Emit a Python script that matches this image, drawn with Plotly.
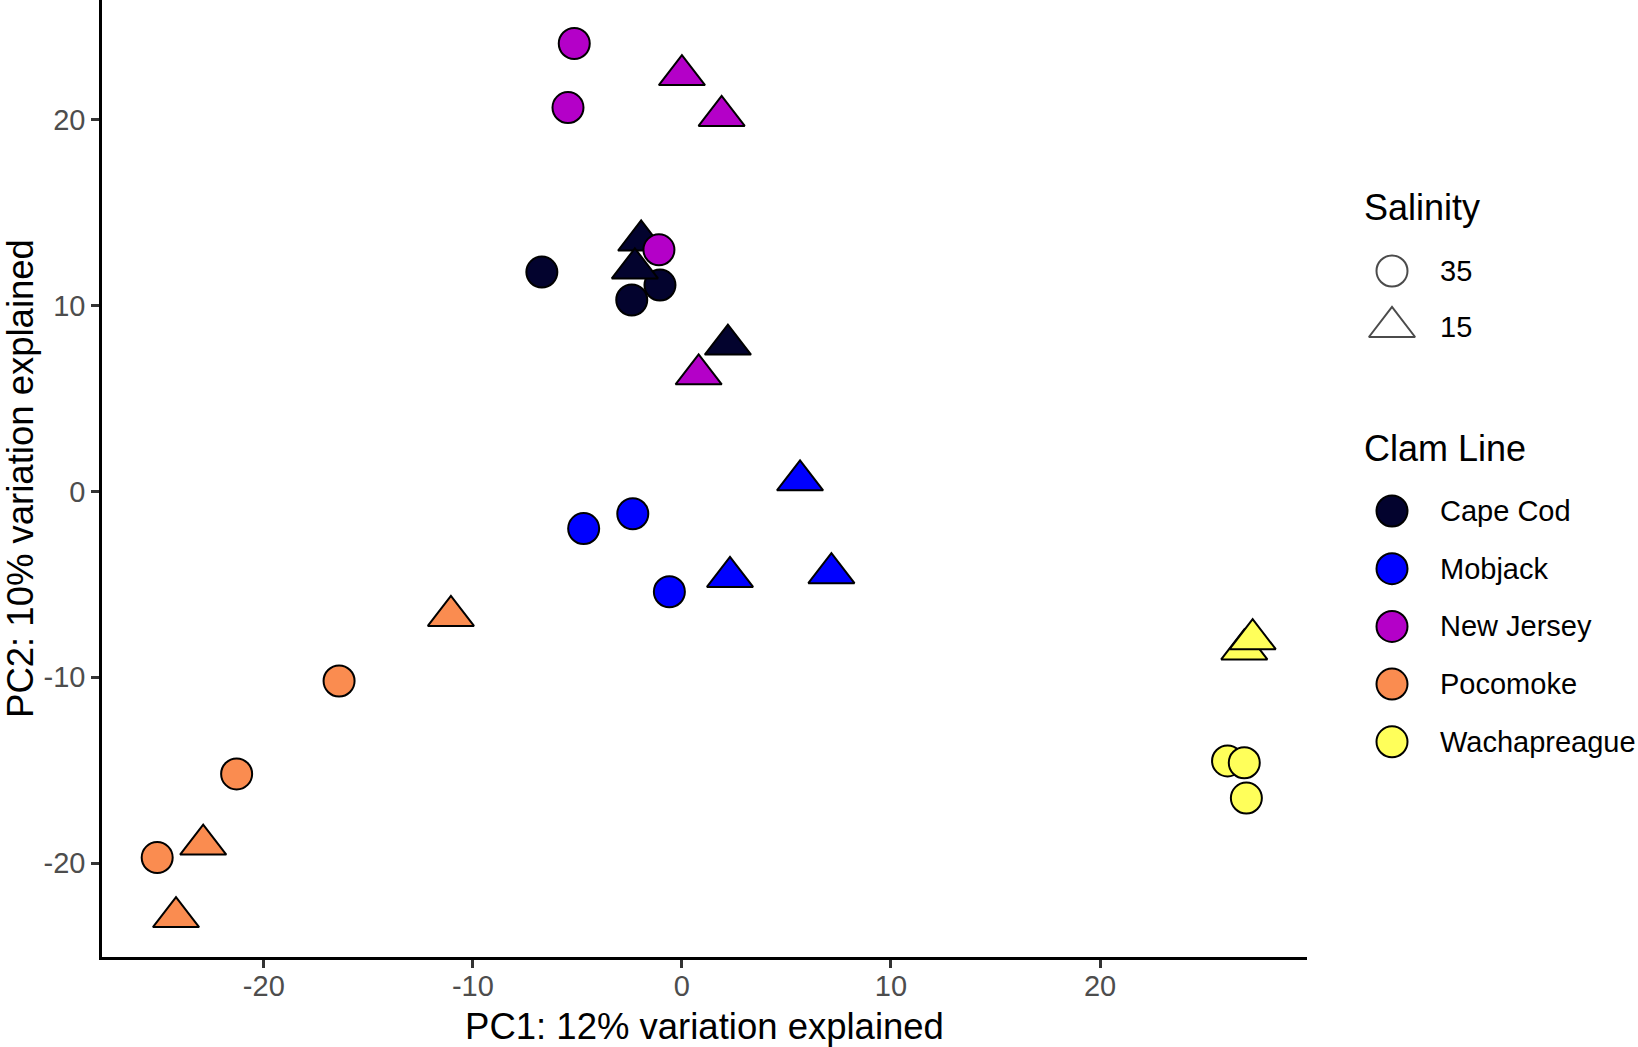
import plotly.graph_objects as go

# PCA scores per sample
clam_line = (["Cape Cod"] * 6 + ["Mobjack"] * 6 + ["New Jersey"] * 6
             + ["Pocomoke"] * 6 + ["Wachapreague"] * 5)
salinity = ([35, 35, 35, 15, 15, 15] * 4 + [35, 35, 35, 15, 15])
pc1 = [-6.7, -2.4, -1.05, -1.95, -2.25, 2.2,
       -4.7, -2.35, -0.6, 5.65, 2.3, 7.15,
       -5.15, -5.45, -1.1, 0.0, 1.9, 0.8,
       -16.4, -21.3, -25.1, -11.05, -22.9, -24.2,
       26.1, 26.9, 27.0, 26.9, 27.3]
pc2 = [11.8, 10.3, 11.1, 13.5, 12.0, 7.9,
       -2.0, -1.2, -5.4, 0.6, -4.6, -4.4,
       24.1, 20.65, 13.0, 22.4, 20.2, 6.3,
       -10.2, -15.2, -19.7, -6.7, -19.0, -22.9,
       -14.5, -14.6, -16.5, -8.5, -7.95]

line_names = ["Cape Cod", "Mobjack", "New Jersey", "Pocomoke", "Wachapreague"]
line_colors = ["#03032E", "#0000FF", "#B400C8", "#FA8C50", "#FFFF5A"]
salinity_levels = [35, 15]

tick_vals = [-20, -10, 0, 10, 20]
tick_text = ["-20", "-10", "0", "10", "20"]

pc1_label = "PC1: 12% variation explained"
pc2_label = "PC2: 10% variation explained"

FONT = "Liberation Sans, Arial, Helvetica, sans-serif"
symbol_for = {35: "circle", 15: "triangle-up"}
size_for = {35: 31, 15: 40}

fig = go.Figure()

for name, color in zip(line_names, line_colors):
    idx = [i for i, l in enumerate(clam_line) if l == name]
    fig.add_trace(go.Scatter(
        x=[pc1[i] for i in idx],
        y=[pc2[i] for i in idx],
        mode="markers",
        name=name,
        showlegend=False,
        marker=dict(
            color=color,
            symbol=[symbol_for[salinity[i]] for i in idx],
            size=[size_for[salinity[i]] for i in idx],
            line=dict(color="black", width=2),
            opacity=1,
        ),
        hovertemplate=name + "<br>PC1 %{x}<br>PC2 %{y}<extra></extra>",
    ))

# hand-made legend on a hidden pixel-scaled axis pair
key_x = 1392
text_x = 1438
title_x = 1362
sal_rows = [271 + 56 * i for i in range(len(salinity_levels))]
line_rows = [511 + 57.7 * i for i in range(len(line_names))]

fig.add_trace(go.Scatter(
    x=[key_x] * len(salinity_levels), y=sal_rows,
    xaxis="x2", yaxis="y2", mode="markers", showlegend=False, hoverinfo="skip",
    marker=dict(color="white",
                symbol=[symbol_for[s] for s in salinity_levels],
                size=[size_for[s] for s in salinity_levels],
                line=dict(color="black", width=2)),
))
fig.add_trace(go.Scatter(
    x=[key_x] * len(line_names), y=line_rows,
    xaxis="x2", yaxis="y2", mode="markers", showlegend=False, hoverinfo="skip",
    marker=dict(color=line_colors, symbol="circle", size=31,
                line=dict(color="black", width=2)),
))

annotations = [
    dict(text="Salinity", x=title_x, y=207, font=dict(size=36, color="black")),
    dict(text="Clam Line", x=title_x, y=448, font=dict(size=36, color="black")),
]
for s, yy in zip(salinity_levels, sal_rows):
    annotations.append(dict(text=str(s), x=text_x, y=yy, font=dict(size=29, color="black")))
for name, yy in zip(line_names, line_rows):
    annotations.append(dict(text=name, x=text_x, y=yy, font=dict(size=29, color="black")))
for a in annotations:
    a.update(xref="x2", yref="y2", xanchor="left", yanchor="middle", showarrow=False)

axis_common = dict(
    showline=True, linecolor="black", linewidth=2.5,
    ticks="outside", ticklen=8, tickwidth=2.5, tickcolor="#333333",
    tickfont=dict(size=29, color="#4D4D4D", family=FONT),
    showgrid=False, zeroline=False,
    tickvals=tick_vals, ticktext=tick_text,
)

fig.update_layout(
    width=1638, height=1047,
    margin=dict(l=102, r=0, t=0, b=90),
    paper_bgcolor="white", plot_bgcolor="white",
    font=dict(family=FONT, color="black"),
    xaxis=dict(domain=[0, 1205 / 1536], range=[-27.74, 29.9], ticklabelstandoff=-7,
               title=dict(text=pc1_label, font=dict(size=36.5, color="black"), standoff=15),
               **axis_common),
    yaxis=dict(range=[-25.05, 26.44],
               title=dict(text=pc2_label, font=dict(size=36.5, color="black"), standoff=12),
               **axis_common),
    xaxis2=dict(domain=[1238 / 1536, 1], range=[1340, 1638], visible=False,
                anchor="y2", fixedrange=True),
    yaxis2=dict(domain=[0, 1], range=[957, 0], visible=False,
                anchor="x2", fixedrange=True),
    annotations=annotations,
    showlegend=False,
)

fig.write_html("out.html", config={"displayModeBar": False},
               post_script="document.body.style.margin='0';")
